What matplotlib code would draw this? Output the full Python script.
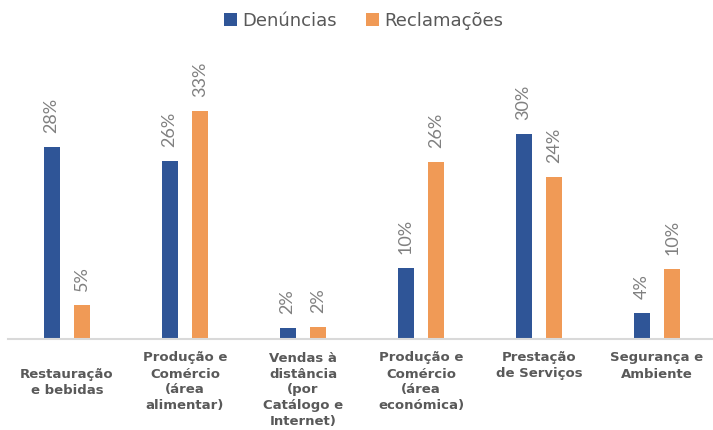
import numpy as np
import matplotlib.pyplot as plt
from matplotlib.transforms import ScaledTranslation

# categories (wrapped as in the original chart)
categorias = ['Restauração\ne bebidas',
              'Produção e\nComércio\n(área\nalimentar)',
              'Vendas à\ndistância\n(por\nCatálogo e\nInternet)',
              'Produção e\nComércio\n(área\neconómica)',
              'Prestação\nde Serviços',
              'Segurança e\nAmbiente']
denuncias = [27.9, 25.9, 1.6, 10.3, 29.8, 3.8]
reclamacoes = [4.9, 33.2, 1.75, 25.8, 23.6, 10.2]

azul = '#2F5597'
laranja = '#F09A56'
cinza = '#808080'

fig = plt.figure(figsize=(7.13, 4.30), dpi=100)
ax = fig.add_axes([8 / 713, 91 / 430, 705 / 713, 299 / 430])

x = np.arange(len(categorias))
largura = 0.136
desloc = 0.131

b1 = ax.bar(x - desloc, denuncias, largura, color=azul, label='Denúncias')
b2 = ax.bar(x + desloc, reclamacoes, largura, color=laranja, label='Reclamações')

# data labels, rotated
for barras, valores in ((b1, denuncias), (b2, reclamacoes)):
    for b, v in zip(barras, valores):
        ax.annotate('%d%%' % round(v), (b.get_x() + b.get_width() / 2, v),
                    xytext=(0, 10), textcoords='offset points',
                    rotation=90, ha='center', va='bottom',
                    fontsize=13, color=cinza, family='Lato')

ax.set_xlim(-0.5, 5.5 - 3 / 118)
ax.set_ylim(0, 43.5)
ax.set_yticks([])
ax.set_xticks(x)
ax.set_xticklabels(categorias, fontsize=9.5, fontweight='bold', color='#595959',
                   linespacing=1.3)
ax.tick_params(axis='x', length=0, pad=9)

# first label sits one line lower in the original
lbl = ax.get_xticklabels()[0]
lbl.set_transform(lbl.get_transform() + ScaledTranslation(0, -0.165, fig.dpi_scale_trans))

for s in ['top', 'right', 'left']:
    ax.spines[s].set_visible(False)
ax.spines['bottom'].set_color('#D9D9D9')
ax.spines['bottom'].set_linewidth(1.5)

leg = fig.legend(loc='upper center', bbox_to_anchor=(0.51, 1.01), ncol=2,
                 frameon=False, fontsize=13, handlelength=0.7,
                 handleheight=0.7, handletextpad=0.3, columnspacing=1.6)
for t in leg.get_texts():
    t.set_color('#595959')

fig.savefig('out.png', dpi=100)
